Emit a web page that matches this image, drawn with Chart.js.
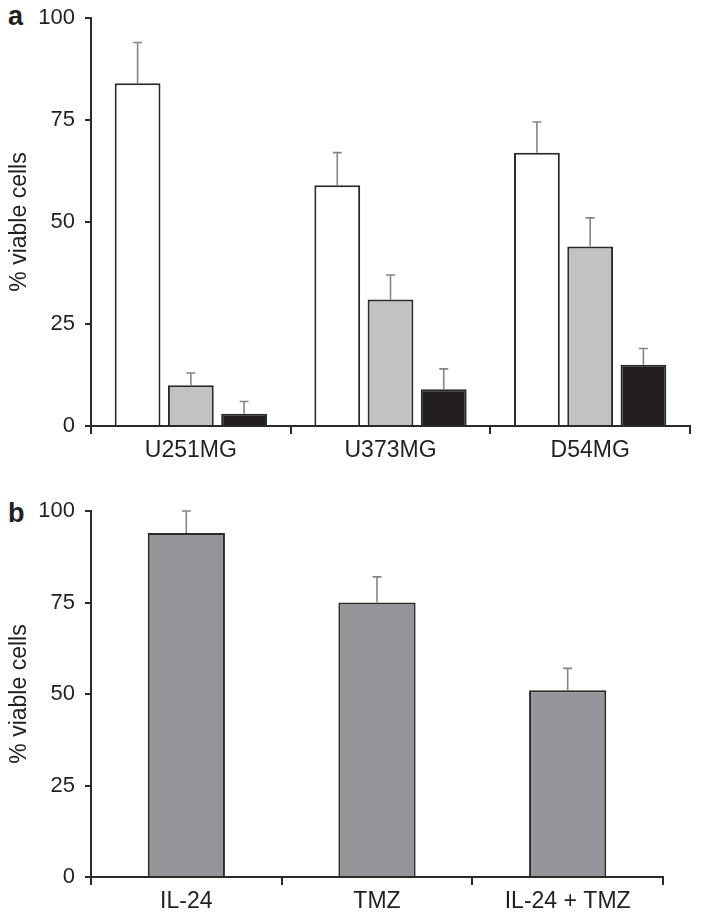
<!DOCTYPE html>
<html>
<head>
<meta charset="utf-8">
<script src="https://cdn.jsdelivr.net/npm/chart.js@4.4.1/dist/chart.umd.min.js"></script>
<style>
  body { margin: 0; background: #fff; width: 701px; height: 920px; position: relative; overflow: hidden; }
  .panel { position: absolute; left: 0; width: 701px; }
  #panelA { top: 0; height: 470px; }
  #panelB { top: 480px; height: 440px; }
  .letter { position: absolute; left: 8px; font: bold 27px "Liberation Sans", Arial, sans-serif; line-height: 27px; color: #231f20; }
</style>
</head>
<body>
<div class="letter" style="top:3px">a</div>
<div class="letter" style="top:500px">b</div>
<div class="panel" id="panelA"><canvas id="chartA" width="701" height="470"></canvas></div>
<div class="panel" id="panelB"><canvas id="chartB" width="701" height="440"></canvas></div>
<script>
const cellLines = ["U251MG", "U373MG", "D54MG"];
const viableWhite = [84, 59, 67];
const errWhite = [10, 8, 7.5];
const viableGray = [10, 31, 44];
const errGray = [3, 6, 7];
const viableBlack = [3, 9, 15];
const errBlack = [3, 5, 4];

const treatments = ["IL-24", "TMZ", "IL-24 + TMZ"];
const viableTreat = [94, 75, 51];
const errTreat = [6, 7, 6];

const yMin = 0, yMax = 100, yStep = 25;

const ink = "#2b2a2b";
const fontFam = '"Liberation Sans", Arial, sans-serif';

// one-sided (upward) error bars, read from dataset.errors
const errorBars = {
    id: "errorBars",
    afterDatasetsDraw(chart) {
        const ctx = chart.ctx;
        const yScale = chart.scales.y;
        ctx.save();
        ctx.strokeStyle = "#858585";
        ctx.lineWidth = 1.6;
        chart.data.datasets.forEach((ds, i) => {
            const meta = chart.getDatasetMeta(i);
            meta.data.forEach((bar, j) => {
                const top = yScale.getPixelForValue(ds.data[j] + ds.errors[j]);
                ctx.beginPath();
                ctx.moveTo(bar.x, bar.y);
                ctx.lineTo(bar.x, top);
                ctx.moveTo(bar.x - 4.5, top);
                ctx.lineTo(bar.x + 4.5, top);
                ctx.stroke();
            });
        });
        ctx.restore();
    }
};

function axes(xHeight) {
    return {
        x: {
            offset: true,
            border: { color: ink, width: 2 },
            grid: { display: true, offset: true, drawOnChartArea: false, drawTicks: true, tickLength: 8, color: ink, lineWidth: 2 },
            ticks: { color: "#231f20", font: { family: fontFam, size: 23 }, padding: 3 },
            afterFit: s => { s.height = xHeight; }
        },
        y: {
            min: yMin, max: yMax,
            border: { color: ink, width: 2 },
            grid: { display: true, drawOnChartArea: false, drawTicks: true, tickLength: 6, color: ink, lineWidth: 2 },
            ticks: { stepSize: yStep, color: "#231f20", font: { family: fontFam, size: 22 }, padding: 10 },
            title: { display: true, text: "% viable cells", color: "#231f20", font: { family: fontFam, size: 23 }, padding: { top: 6, bottom: 0 } },
            afterFit: s => { s.width = 91; s.paddingTop = 0; s.paddingBottom = 0; }
        }
    };
}

const common = {
    responsive: false,
    animation: false,
    plugins: { legend: { display: false }, tooltip: { enabled: false } }
};

new Chart(document.getElementById("chartA").getContext("2d"), {
    type: "bar",
    data: {
        labels: cellLines,
        datasets: [
            { data: viableWhite, errors: errWhite, backgroundColor: "#ffffff" },
            { data: viableGray, errors: errGray, backgroundColor: "#c1c2c4" },
            { data: viableBlack, errors: errBlack, backgroundColor: "#231f20" }
        ].map(d => Object.assign(d, { borderColor: ink, borderWidth: 2, borderSkipped: "start", categoryPercentage: 0.8, barPercentage: 0.86 }))
    },
    options: Object.assign({}, common, {
        layout: { padding: { top: 18, right: 11, left: 0, bottom: 0 } },
        scales: axes(44)
    }),
    plugins: [errorBars]
});

new Chart(document.getElementById("chartB").getContext("2d"), {
    type: "bar",
    data: {
        labels: treatments,
        datasets: [
            { data: viableTreat, errors: errTreat, backgroundColor: "#949598", borderColor: ink, borderWidth: 2, borderSkipped: "start", categoryPercentage: 1, barPercentage: 0.405 }
        ]
    },
    options: Object.assign({}, common, {
        layout: { padding: { top: 31, right: 38, left: 0, bottom: 0 } },
        scales: axes(43)
    }),
    plugins: [errorBars]
});
</script>
</body>
</html>
